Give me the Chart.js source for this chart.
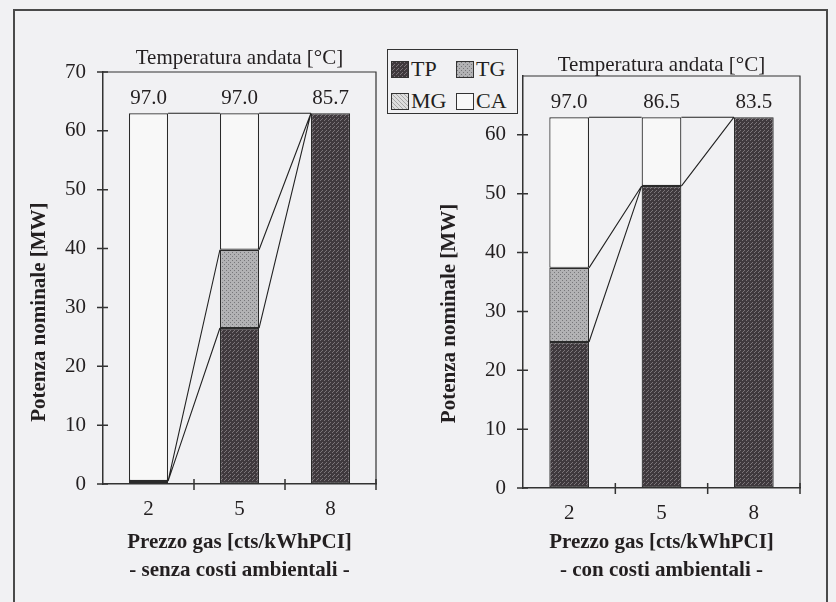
<!DOCTYPE html>
<html>
<head>
<meta charset="utf-8">
<script src="https://cdn.jsdelivr.net/npm/chart.js@4.4.1/dist/chart.umd.min.js"></script>
<style>
  body { margin: 0; width: 836px; height: 602px; overflow: hidden; position: relative; background: #f1f1f3; font-family: "Liberation Serif", serif; color: #231f20; }
  #frame { position: absolute; left: 13px; top: 9px; width: 811px; height: 620px; border: 2px solid #4a4a4a; }
  #left { position: absolute; left: 0; top: 0; }
  #right { position: absolute; left: 418px; top: 0; }
  #legend { position: absolute; left: 387px; top: 49px; width: 129px; height: 63px; border: 1.5px solid #333; background: #f1f1f3; }
  .item { position: absolute; font-size: 22px; line-height: 22px; }
  .item canvas { position: absolute; left: 0; top: 3px; border: 1px solid #333; }
  .item span { position: absolute; left: 20px; top: 0; }
</style>
</head>
<body>
<div id="frame"></div>
<canvas id="left" width="418" height="602"></canvas>
<canvas id="right" width="418" height="602"></canvas>
<div id="legend"></div>
<script>
// categories (gas price) and stacked values in MW
const prezzi = ['2', '5', '8'];
const serie = ['TP', 'TG', 'MG', 'CA'];

// senza costi ambientali
const tpSenza = [0.5, 26.5, 63];
const tgSenza = [0, 13.3, 0];
const mgSenza = [0, 0, 0];
const caSenza = [62.5, 23.2, 0];
const tempSenza = ['97.0', '97.0', '85.7'];

// con costi ambientali
const tpCon = [24.8, 51.3, 63];
const tgCon = [12.6, 0, 0];
const mgCon = [0, 0, 0];
const caCon = [25.6, 11.7, 0];
const tempCon = ['97.0', '86.5', '83.5'];

const yTicks = [0, 10, 20, 30, 40, 50, 60, 70];

const FONT = '"Liberation Serif", "Times New Roman", serif';
const INK = '#231f20';

// fill patterns like the old Excel print
function makePattern(base, ink, size, dots) {
  const c = document.createElement('canvas');
  c.width = c.height = size;
  const g = c.getContext('2d');
  g.fillStyle = base;
  g.fillRect(0, 0, size, size);
  g.fillStyle = ink;
  dots.forEach(d => g.fillRect(d[0], d[1], 1, 1));
  return g.createPattern(c, 'repeat');
}
const fills = {
  TP: makePattern('#3f393d', '#7b7579', 4, [[0, 0], [2, 2], [1, 3]]),
  TG: makePattern('#b2b2b4', '#77777a', 4, [[0, 0], [2, 2]]),
  MG: makePattern('#dedede', '#a8a8a8', 4, [[0, 0], [1, 1], [2, 2], [3, 3]]),
  CA: '#f8f8f8'
};

// legend (shared between the two charts)
const legend = document.getElementById('legend');
serie.forEach((s, i) => {
  const it = document.createElement('div');
  it.className = 'item';
  it.style.left = (i % 2 === 0 ? 3 : 68) + 'px';
  it.style.top = (i < 2 ? 8 : 40) + 'px';
  const sw = document.createElement('canvas');
  sw.width = 16; sw.height = 15;
  const g = sw.getContext('2d');
  g.fillStyle = fills[s];
  g.fillRect(0, 0, 16, 15);
  const t = document.createElement('span');
  t.textContent = s;
  it.appendChild(sw);
  it.appendChild(t);
  legend.appendChild(it);
});

// axis box, cross ticks, series lines and temperature labels
const decor = {
  id: 'decor',
  afterDatasetsDraw(chart, args, o) {
    const ctx = chart.ctx;
    const a = chart.chartArea;
    const y = chart.scales.y;
    ctx.save();
    ctx.strokeStyle = '#333';
    ctx.lineWidth = 1.2;
    ctx.beginPath();
    ctx.moveTo(a.left, a.top);
    ctx.lineTo(a.right, a.top);
    ctx.lineTo(a.right, a.bottom);
    ctx.stroke();

    ctx.lineWidth = 1.5;
    ctx.beginPath();
    yTicks.forEach(v => {
      if (o.hideTop && v === 70) return;
      const py = y.getPixelForValue(v);
      ctx.moveTo(a.left - 6, py);
      ctx.lineTo(a.left + 5, py);
    });
    const step = (a.right - a.left) / prezzi.length;
    for (let i = 1; i <= prezzi.length; i++) {
      const px = a.left + i * step;
      ctx.moveTo(px, a.bottom - 5);
      ctx.lineTo(px, a.bottom + 6);
    }
    ctx.stroke();

    // series lines between neighbouring bars
    ctx.lineWidth = 1.1;
    ctx.strokeStyle = '#222';
    ctx.beginPath();
    chart.data.datasets.forEach((ds, di) => {
      const bars = chart.getDatasetMeta(di).data;
      for (let j = 0; j < bars.length - 1; j++) {
        const b0 = bars[j], b1 = bars[j + 1];
        ctx.moveTo(b0.x + b0.width / 2, b0.y);
        ctx.lineTo(b1.x - b1.width / 2, b1.y);
      }
    });
    ctx.stroke();

    // temperature above each bar
    const last = chart.getDatasetMeta(chart.data.datasets.length - 1).data;
    ctx.fillStyle = INK;
    ctx.font = '21px ' + FONT;
    ctx.textAlign = 'center';
    ctx.textBaseline = 'alphabetic';
    last.forEach((b, j) => ctx.fillText(o.temps[j], b.x, b.y - 9));
    ctx.restore();
  }
};

function makeChart(id, values, temps, sub, p) {
  return new Chart(document.getElementById(id), {
    type: 'bar',
    data: {
      labels: prezzi,
      datasets: serie.map((s, i) => ({
        label: s,
        data: values[i],
        backgroundColor: fills[s],
        borderColor: '#2a2a2a',
        borderWidth: 1.2,
        borderSkipped: false,
        barPercentage: 0.43,
        categoryPercentage: 1
      }))
    },
    options: {
      responsive: false,
      animation: false,
      layout: { padding: { left: p.padL, right: p.padR, top: 10, bottom: 0 } },
      plugins: {
        legend: { display: false },
        tooltip: { enabled: false },
        title: {
          display: true,
          fullSize: false,
          text: 'Temperatura andata [°C]',
          color: INK,
          font: { family: FONT, size: 21, weight: 'normal', lineHeight: 1 },
          padding: { top: p.tTop, bottom: p.tBot }
        },
        decor: { temps: temps, hideTop: p.hideTop }
      },
      scales: {
        x: {
          stacked: true,
          grid: { drawOnChartArea: false, drawTicks: false },
          border: { color: '#333', width: 1.5 },
          ticks: { padding: 13, color: INK, font: { family: FONT, size: 21 } },
          title: {
            display: true,
            text: ['Prezzo gas [cts/kWhPCI]', sub],
            color: INK,
            font: { family: FONT, size: 21, weight: 'bold', lineHeight: 1.3 },
            padding: { top: 0, bottom: 18 }
          },
          afterFit: s => { s.height = p.xH; }
        },
        y: {
          stacked: true,
          min: 0,
          max: 70,
          grid: { drawOnChartArea: false, drawTicks: false },
          border: { color: '#333', width: 1.5 },
          ticks: {
            stepSize: 10,
            padding: 17,
            color: INK,
            font: { family: FONT, size: 21 },
            callback: v => (p.hideTop && v === 70) ? '' : v
          },
          title: {
            display: true,
            // trailing spaces push the rotated title down as in the original
            text: 'Potenza nominale [MW]' + ' '.repeat(p.ySpaces),
            color: INK,
            font: { family: FONT, size: 21, weight: 'bold', lineHeight: 1.2 },
            padding: { top: p.yT, bottom: 0 }
          },
          afterFit: s => { s.width = p.yW; }
        }
      }
    },
    plugins: [decor]
  });
}

makeChart('left', [tpSenza, tgSenza, mgSenza, caSenza], tempSenza, '- senza costi ambientali -',
  { padL: 14, padR: 42, yW: 89, yT: 13, ySpaces: 13, xH: 118, tTop: 38, tBot: 3, hideTop: false });
makeChart('right', [tpCon, tgCon, mgCon, caCon], tempCon, '- con costi ambientali -',
  { padL: 0, padR: 36, yW: 105, yT: 19, ySpaces: 12, xH: 114, tTop: 45, tBot: 0, hideTop: true });
</script>
</body>
</html>
